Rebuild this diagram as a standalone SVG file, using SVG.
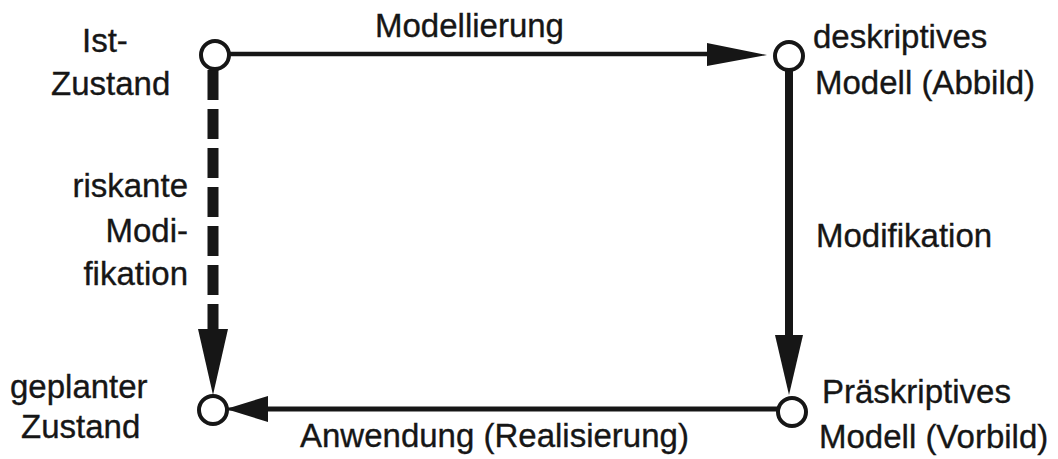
<svg xmlns="http://www.w3.org/2000/svg" width="1058" height="459" viewBox="0 0 1058 459">
  <style>
    .lbl { font-family: "Liberation Sans", Arial, sans-serif; font-size: 33px; fill: #161616; stroke: #161616; stroke-width: 0.35; }
    .node circle { fill: #ffffff; stroke: #161616; stroke-width: 4; }
    .edge { stroke: #161616; fill: none; }
    .head { fill: #161616; stroke: none; }
  </style>
  <rect width="1058" height="459" fill="#ffffff"/>

  <!-- connectors -->
  <g id="connectors">
    <!-- Modellierung: Ist-Zustand -> deskriptives Modell -->
    <line class="edge" x1="228" y1="54" x2="712" y2="54" stroke-width="4.5"/>
    <polygon class="head" points="707,43 767,55 707,66"/>
    <!-- Modifikation: deskriptives Modell -> präskriptives Modell -->
    <line class="edge" x1="789" y1="69" x2="789" y2="340" stroke-width="8"/>
    <polygon class="head" points="775,335 803,335 789,395"/>
    <!-- Anwendung: präskriptives Modell -> geplanter Zustand -->
    <line class="edge" x1="777" y1="409" x2="262" y2="409" stroke-width="5"/>
    <line class="edge" x1="268" y1="409" x2="222" y2="409" stroke-width="3"/>
    <polygon class="head" points="268,396 268,422 226,409"/>
    <!-- riskante Modifikation: Ist-Zustand -> geplanter Zustand (dashed) -->
    <line class="edge" x1="213" y1="70" x2="213" y2="330" stroke-width="11" stroke-dasharray="30 9"/>
    <polygon class="head" points="198,329 228,329 213,395"/>
  </g>

  <!-- nodes -->
  <g id="ist-zustand" class="node">
    <circle cx="215" cy="55" r="14"/>
    <text class="lbl" x="82" y="52">Ist-</text>
    <text class="lbl" x="51" y="95">Zustand</text>
  </g>
  <g id="deskriptives-modell" class="node">
    <circle cx="789" cy="56" r="14"/>
    <text class="lbl" x="813" y="48">deskriptives</text>
    <text class="lbl" x="815" y="94">Modell (Abbild)</text>
  </g>
  <g id="praeskriptives-modell" class="node">
    <circle cx="792" cy="412" r="14"/>
    <text class="lbl" x="822" y="403">Präskriptives</text>
    <text class="lbl" x="819" y="448">Modell (Vorbild)</text>
  </g>
  <g id="geplanter-zustand" class="node">
    <circle cx="213" cy="410" r="14"/>
    <text class="lbl" x="10" y="398">geplanter</text>
    <text class="lbl" x="21" y="438">Zustand</text>
  </g>

  <!-- edge labels -->
  <g id="labels">
    <text class="lbl" x="375" y="37">Modellierung</text>
    <text class="lbl" x="816" y="247">Modifikation</text>
    <text class="lbl" x="188" y="197" text-anchor="end">riskante</text>
    <text class="lbl" x="188" y="242" text-anchor="end">Modi-</text>
    <text class="lbl" x="188" y="285" text-anchor="end">fikation</text>
    <text class="lbl" x="300" y="447">Anwendung (Realisierung)</text>
  </g>
</svg>
